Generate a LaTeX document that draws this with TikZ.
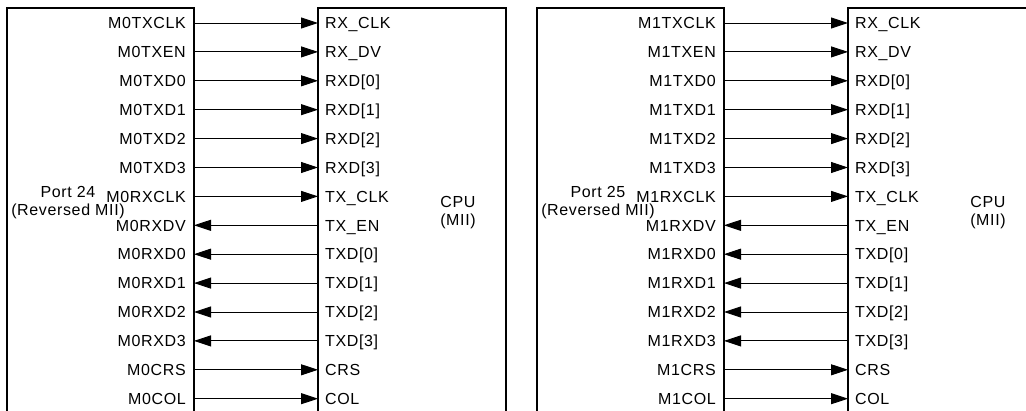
\documentclass[tikz,border=0pt]{standalone}
\usepackage{fontspec}
\setmainfont{Liberation Sans}[LetterSpace=4]
\usetikzlibrary{arrows.meta}

\begin{document}
\begin{tikzpicture}[
    x=1pt, y=-1pt,
    every node/.style={font=\fontsize{16}{18}\selectfont},
    box/.style={draw, line width=1.3pt},
    sig/.style={line width=0.9pt},
    fwd/.style={sig, -{Triangle[length=17pt,width=11pt]}},
    back/.style={sig, {Triangle[length=17pt,width=11pt]}-},
    portsig/.style={anchor=east, inner xsep=8pt, inner ysep=0pt,
        text height=11.5pt, text depth=0pt},
    cpusig/.style={anchor=west, inner xsep=7pt, inner ysep=0pt,
        text height=11.5pt, text depth=0pt},
    caption/.style={align=center}
]
\useasboundingbox (0,0) rectangle (1026,411);
\clip (0,0) rectangle (1026,411);

\foreach \p/\n in {0/24,1/25}{
\begin{scope}[xshift={\p*530}]
    \draw[box] (7,8) rectangle (194,430);
    \draw[box] (318,8) rectangle (506,430);

    \node[caption] (port\p) at (68,203) {Port \n\\(Reversed MII)};
    \node[caption] (cpu\p) at (458,213) {CPU\\(MII)};

    \foreach \a/\b/\d [count=\i from 0] in {
        TXCLK/RX\_CLK/fwd, TXEN/RX\_DV/fwd,
        TXD0/{RXD[0]}/fwd, TXD1/{RXD[1]}/fwd,
        TXD2/{RXD[2]}/fwd, TXD3/{RXD[3]}/fwd,
        RXCLK/TX\_CLK/fwd, RXDV/TX\_EN/back,
        RXD0/{TXD[0]}/back, RXD1/{TXD[1]}/back,
        RXD2/{TXD[2]}/back, RXD3/{TXD[3]}/back,
        CRS/CRS/fwd, COL/COL/fwd}{
        \node[portsig] (port\p-\i) at (194,23+28.9*\i) {M\p\a};
        \node[cpusig] (cpu\p-\i) at (318,23+28.9*\i) {\b};
        \draw[\d] (port\p-\i.east) -- (cpu\p-\i.west);
    }
\end{scope}
}

\end{tikzpicture}
\end{document}
